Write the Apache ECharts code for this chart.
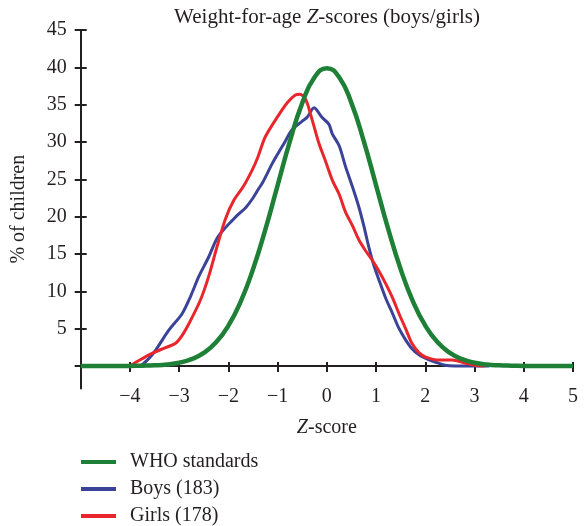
<!DOCTYPE html>
<html>
<head>
<meta charset="utf-8">
<script src="https://cdn.jsdelivr.net/npm/echarts@6/dist/echarts.min.js"></script>
<style>html,body{margin:0;padding:0;background:#fff;}#c{width:584px;height:526px;}</style>
</head>
<body>
<div id="c"></div>
<script>
// ---- data ----
var xTickLabels = [-4, -3, -2, -1, 0, 1, 2, 3, 4, 5];
var yTickLabels = [5, 10, 15, 20, 25, 30, 35, 40, 45];
var seriesNames = ['WHO standards', 'Boys (183)', 'Girls (178)'];

var whoZ = [-5, -4.75, -4.5, -4.25, -4, -3.75, -3.5, -3.25, -3, -2.75, -2.5, -2.25, -2, -1.75, -1.5, -1.25, -1, -0.75, -0.5, -0.25, 0,
            0.25, 0.5, 0.75, 1, 1.25, 1.5, 1.75, 2, 2.25, 2.5, 2.75, 3, 3.25, 3.5, 3.75, 4, 4.25, 4.5, 4.75, 5];
var whoV = [0, 0, 0, 0, 0.01, 0.04, 0.09, 0.2, 0.44, 0.91, 1.75, 3.17, 5.4, 8.63, 12.95, 18.26, 24.2, 30.11, 35.21, 38.67, 39.89,
            38.67, 35.21, 30.11, 24.2, 18.26, 12.95, 8.63, 5.4, 3.17, 1.75, 0.91, 0.44, 0.2, 0.09, 0.04, 0.01, 0, 0, 0, 0];

var boysZ = [-3.78, -3.6, -3.48, -3.21, -2.94, -2.77, -2.6, -2.4, -2.23, -2.05, -1.92, -1.8, -1.65, -1.5, -1.38, -1.31, -1.11, -0.98, -0.87, -0.71, -0.5, -0.4, -0.26,
             -0.1, 0.04, 0.11, 0.25, 0.38, 0.52, 0.65, 0.75, 0.85, 0.95, 1.06, 1.2, 1.33, 1.46, 1.6, 1.73, 1.87, 2.05, 2.21, 2.4, 2.6, 3.3];
var boysV = [0, 1.1, 2.1, 4.8, 7.0, 9.3, 12.0, 14.6, 17.1, 18.6, 19.5, 20.3, 21.2, 22.5, 23.8, 24.5, 27.1, 28.6, 29.8, 31.6, 32.8, 33.3, 34.6,
             33.3, 32.4, 31.1, 29.5, 26.7, 24.0, 21.3, 18.8, 16.0, 13.6, 11.5, 9.0, 7.1, 5.1, 3.5, 2.3, 1.5, 0.9, 0.5, 0.1, 0, 0];

var girlsZ = [-4.0, -3.8, -3.55, -3.3, -3.08, -2.95, -2.8, -2.57, -2.4, -2.23, -2.06, -1.89, -1.7, -1.52, -1.4, -1.25, -0.98, -0.8, -0.64, -0.55, -0.43, -0.3, -0.16,
              -0.03, 0.11, 0.25, 0.38, 0.52, 0.65, 0.78, 0.92, 1.06, 1.19, 1.33, 1.46, 1.6, 1.73, 1.87, 2.01, 2.28, 2.55, 2.8, 3.0, 3.2];
var girlsV = [0, 0.8, 1.7, 2.4, 3.0, 4.0, 5.7, 8.8, 12.0, 16.0, 19.7, 22.2, 24.0, 26.2, 28.0, 30.7, 33.6, 35.3, 36.3, 36.4, 35.7, 33.0, 29.8,
              27.5, 24.9, 23.0, 20.6, 18.8, 16.9, 15.5, 14.2, 12.7, 11.1, 9.2, 7.1, 5.0, 3.0, 1.8, 1.2, 0.8, 0.8, 0.4, 0.1, 0];

function pairs(xs, ys) { return xs.map(function (x, i) { return [x, ys[i]]; }); }

var FONT = 'Liberation Serif';
var INK = '#231f20';
var colors = ['#1e7f36', '#3b4399', '#e8262b'];

var chart = echarts.init(document.getElementById('c'));
chart.setOption({
  animation: false,
  color: colors,
  title: {
    text: 'Weight-for-age {i|Z}-scores (boys/girls)',
    left: 327, top: 7, textAlign: 'center', padding: 0,
    textStyle: {
      fontFamily: FONT, fontSize: 21, fontWeight: 'normal', color: INK,
      rich: { i: { fontFamily: FONT, fontSize: 21, fontStyle: 'italic', color: INK } }
    }
  },
  legend: {
    orient: 'vertical', left: 81, top: 452, height: 74, padding: 0,
    itemWidth: 35, itemHeight: 4, itemGap: 7,
    icon: 'rect',
    textStyle: { fontFamily: FONT, fontSize: 20, color: INK, padding: [0, 0, 0, 9] },
    data: seriesNames
  },
  grid: { left: 80.7, right: 11, top: 30, bottom: 137.6, containLabel: false },
  xAxis: [{
    type: 'value', min: -5, max: 5, interval: 1, position: 'bottom',
    name: '{i|Z}-score', nameLocation: 'middle', nameGap: 29,
    nameTextStyle: {
      fontFamily: FONT, fontSize: 20, color: INK,
      rich: { i: { fontFamily: FONT, fontSize: 20, fontStyle: 'italic', color: INK } }
    },
    axisLine: { onZero: true, lineStyle: { color: INK, width: 2 } },
    axisTick: { show: true, length: 6, lineStyle: { color: INK, width: 2 } },
    axisLabel: {
      margin: -2, fontFamily: FONT, fontSize: 20, color: INK,
      formatter: function (v) {
        if (xTickLabels.indexOf(v) < 0) return '';
        return String(v).replace('-', '\u2212');
      }
    },
    splitLine: { show: false }
  }, {
    type: 'value', min: -5, max: 5, interval: 1, position: 'top',
    axisLine: { show: true, onZero: true, lineStyle: { color: INK, width: 2 } },
    axisTick: { show: true, length: 4, lineStyle: { color: INK, width: 2 } },
    axisLabel: { show: false },
    splitLine: { show: false }
  }],
  yAxis: [{
    type: 'value', min: -3, max: 45, position: 'left',
    name: '% of children', nameLocation: 'middle', nameGap: 52, nameRotate: 90,
    nameTextStyle: { fontFamily: FONT, fontSize: 20, color: INK },
    axisLine: { show: true, onZero: false, lineStyle: { color: INK, width: 2 } },
    axisTick: { show: true, length: 6, customValues: [0].concat(yTickLabels), lineStyle: { color: INK, width: 2 } },
    axisLabel: { margin: 14, fontFamily: FONT, fontSize: 20, color: INK, customValues: yTickLabels },
    splitLine: { show: false }
  }, {
    type: 'value', min: -3, max: 45, position: 'left',
    axisLine: { show: false, onZero: false },
    axisTick: { show: true, inside: true, length: 6, customValues: yTickLabels, lineStyle: { color: INK, width: 2 } },
    axisLabel: { show: false },
    splitLine: { show: false }
  }],
  series: [{
    name: seriesNames[0], type: 'line', data: pairs(whoZ, whoV), smooth: true,
    showSymbol: false, z: 3, lineStyle: { width: 4.5, color: colors[0] }, itemStyle: { color: colors[0] }
  }, {
    name: seriesNames[1], type: 'line', data: pairs(boysZ, boysV), smooth: 0.3,
    showSymbol: false, z: 2, lineStyle: { width: 3, color: colors[1] }, itemStyle: { color: colors[1] }
  }, {
    name: seriesNames[2], type: 'line', data: pairs(girlsZ, girlsV), smooth: 0.3,
    showSymbol: false, z: 2, lineStyle: { width: 3, color: colors[2] }, itemStyle: { color: colors[2] }
  }]
});
</script>
</body>
</html>
